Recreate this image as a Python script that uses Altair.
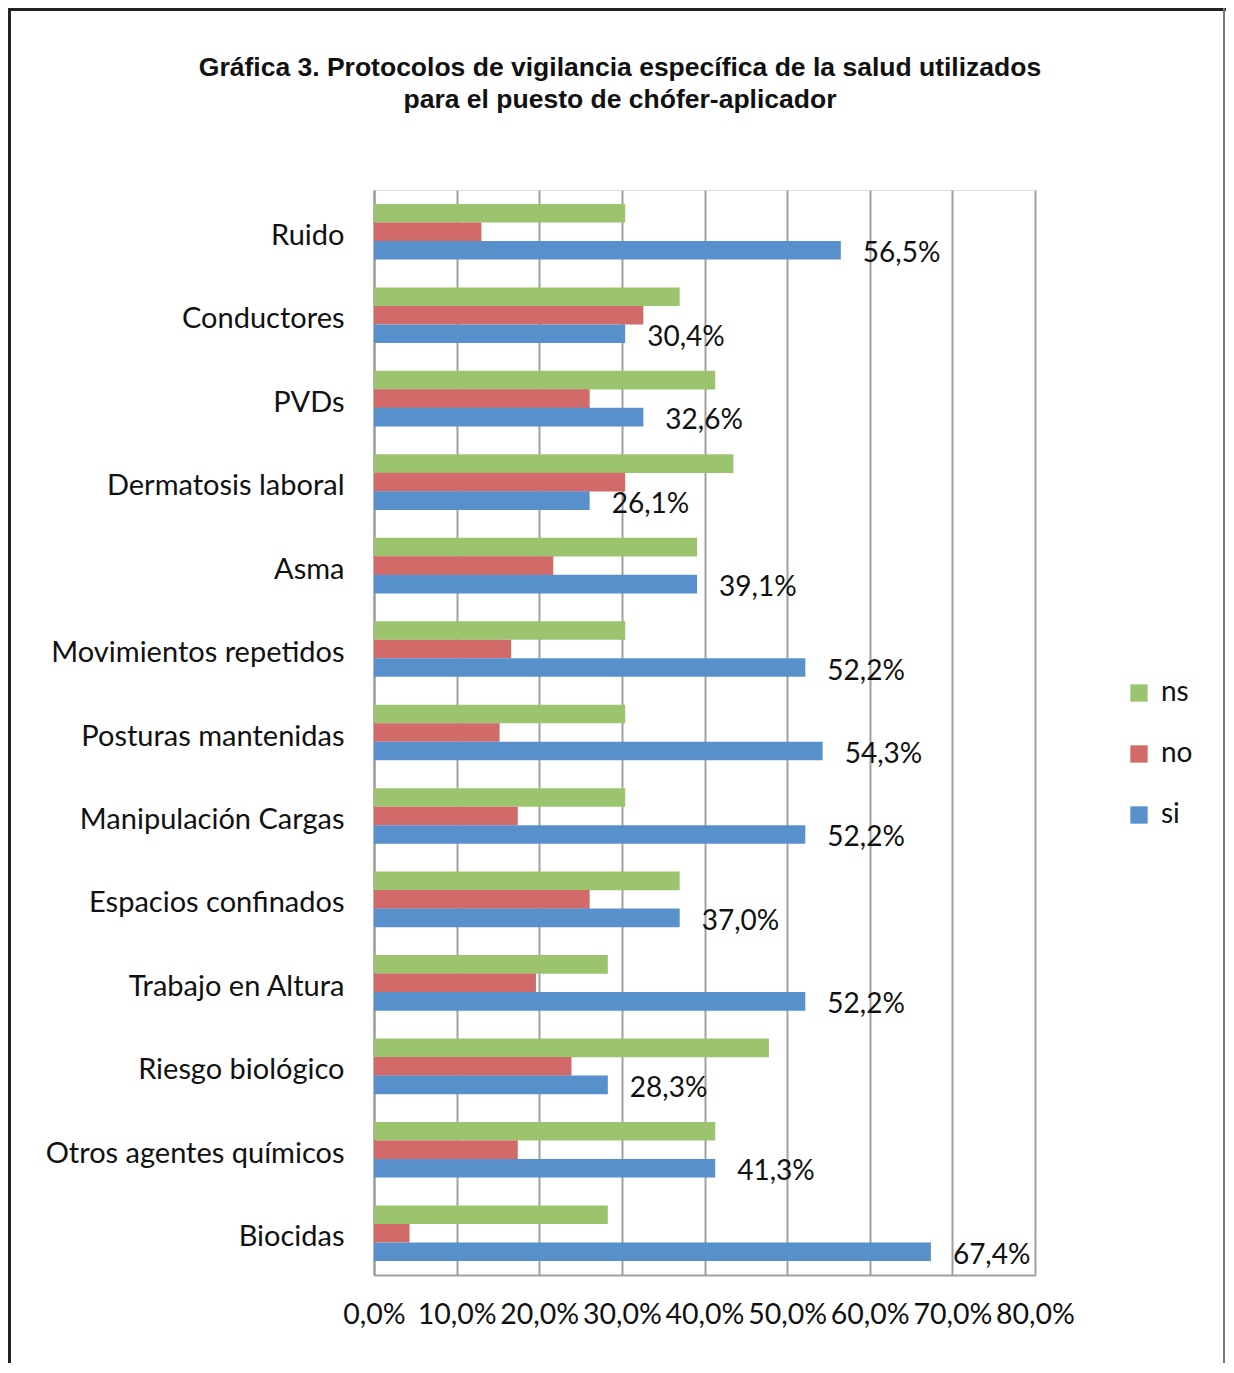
import altair as alt
import pandas as pd

title_lines = ["Gráfica 3. Protocolos de vigilancia específica de la salud utilizados",
               "para el puesto de chófer-aplicador"]
categories = ["Ruido", "Conductores", "PVDs", "Dermatosis laboral", "Asma",
              "Movimientos repetidos", "Posturas mantenidas", "Manipulación Cargas",
              "Espacios confinados", "Trabajo en Altura", "Riesgo biológico",
              "Otros agentes químicos", "Biocidas"]
ns_vals = [30.4, 37.0, 41.3, 43.5, 39.1, 30.4, 30.4, 30.4, 37.0, 28.3, 47.8, 41.3, 28.3]
no_vals = [13.0, 32.6, 26.1, 30.4, 21.7, 16.6, 15.2, 17.4, 26.1, 19.6, 23.9, 17.4, 4.3]
si_vals = [56.5, 30.4, 32.6, 26.1, 39.1, 52.2, 54.3, 52.2, 37.0, 52.2, 28.3, 41.3, 67.4]
series = ["ns", "no", "si"]
colors = ["#9CC46E", "#D16A68", "#5890CC"]
x_ticks = [0, 10, 20, 30, 40, 50, 60, 70, 80]

rows = []
for s, vals in zip(series, [ns_vals, no_vals, si_vals]):
    for c, v in zip(categories, vals):
        rows.append({"cat": c, "serie": s, "val": v})
df = pd.DataFrame(rows)

LABEL_FONT = "Lato"
TITLE_FONT = "Liberation Sans"
W, H = 661, 1085

y_enc = alt.Y("cat:N", sort=categories, title=None,
              scale=alt.Scale(paddingInner=0.335, paddingOuter=0.1675),
              axis=alt.Axis(labelFont=LABEL_FONT, labelFontSize=29, labelColor="#111",
                            labelPadding=30, labelOffset=4, ticks=False, domain=True,
                            domainColor="#999", domainWidth=2, grid=False, labelLimit=400))
yoff = alt.YOffset("serie:N", scale=alt.Scale(domain=series, paddingInner=0, paddingOuter=0))
x_enc = alt.X("val:Q", title=None,
              scale=alt.Scale(domain=[0, 80], nice=False),
              axis=alt.Axis(values=x_ticks, grid=True, gridColor="#a0a0a0", gridWidth=2,
                            domain=True, domainColor="#a0a0a0", domainWidth=2, ticks=False,
                            labelFont=LABEL_FONT, labelFontSize=28.5, labelColor="#111",
                            labelPadding=25, labelOverlap=False, labelFlush=False,
                            labelExpr="replace(format(datum.value, '.1f'), '.', ',') + '%'"))

bars = alt.Chart(df).mark_bar(size=18.6).encode(
    y=y_enc, yOffset=yoff, x=x_enc,
    color=alt.Color("serie:N", scale=alt.Scale(domain=series, range=colors),
                    legend=alt.Legend(title=None, orient="none", legendX=751, legendY=489,
                                      symbolType="square", symbolSize=300, symbolStrokeWidth=0,
                                      labelFont=LABEL_FONT, labelFontSize=28, labelColor="#111",
                                      rowPadding=33, labelOffset=8)),
)

labels = alt.Chart(df).transform_filter(alt.datum.serie == "si").transform_calculate(
    lbl="replace(format(datum.val, '.1f'), '.', ',') + '%'"
).mark_text(align="left", baseline="middle", dx=22, dy=4, font=LABEL_FONT,
            fontSize=28, color="#111").encode(
    y=alt.Y("cat:N", sort=categories), yOffset=yoff, x=alt.X("val:Q"), text="lbl:N")

one = alt.Data(values=[{"k": 1}])
title1 = alt.Chart(one).mark_text(text=title_lines[0], align="center", baseline="alphabetic",
                                  font=TITLE_FONT, fontWeight="bold", fontSize=26.5,
                                  color="#111").encode(x=alt.value(246), y=alt.value(-114))
title2 = alt.Chart(one).mark_text(text=title_lines[1], align="center", baseline="alphabetic",
                                  font=TITLE_FONT, fontWeight="bold", fontSize=26.5,
                                  color="#111").encode(x=alt.value(246), y=alt.value(-82))

left_line = alt.Chart(one).mark_rule(color="#222", strokeWidth=3).encode(
    x=alt.value(-364.5), y=alt.value(-180.5), y2=alt.value(1200))
top_line = alt.Chart(one).mark_rule(color="#222", strokeWidth=3).encode(
    x=alt.value(-366), x2=alt.value(900), y=alt.value(-180.5))
right_line = alt.Chart(one).mark_rule(color="#777", strokeWidth=2).encode(
    x=alt.value(850), y=alt.value(-182), y2=alt.value(1200))

chart = alt.layer(bars, labels, title1, title2, left_line, top_line, right_line).properties(
    width=W, height=H,
    autosize=alt.AutoSizeParams(type="none"),
    padding={"left": 366, "top": 182, "right": 191, "bottom": 88},
).configure_view(strokeWidth=0).configure(background="white")

chart.save("out.html", embed_options={"renderer": "svg", "actions": False})
